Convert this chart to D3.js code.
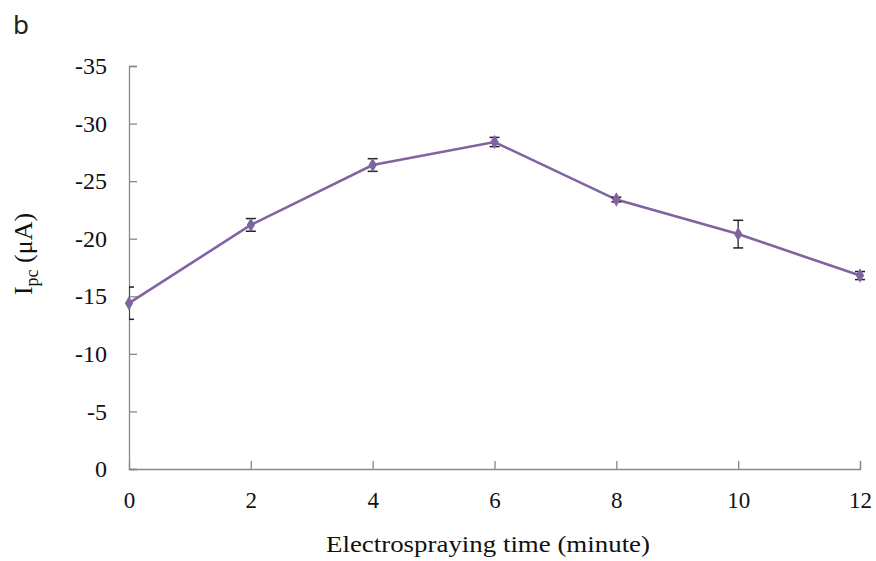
<!DOCTYPE html>
<meta charset="utf-8">
<script src="https://d3js.org/d3.v7.min.js"></script>
<style>
  body { margin: 0; background: #fff; }
  text { font-family: 'Liberation Serif', 'Times New Roman', serif; }
</style>
<body>
<div id="chart"></div>
<script>

// data
var times = [0, 2, 4, 6, 8, 10, 12];
var ipc = [-14.4, -21.2, -26.4, -28.4, -23.4, -20.4, -16.8];
var errs = [1.4, 0.55, 0.55, 0.4, 0.2, 1.2, 0.35];
var yTicks = [0, -5, -10, -15, -20, -25, -30, -35];
var xTicks = [0, 2, 4, 6, 8, 10, 12];

var margin = {top: 66, right: 16, bottom: 92, left: 129},
    width = 876 - margin.left - margin.right,
    height = 561 - margin.top - margin.bottom;

var svg = d3.select("#chart")
  .append("svg")
    .attr("width", 876)
    .attr("height", 561)

svg.append("text")
  .attr("x", 13)
  .attr("y", 34)
  .style("font-family", "'Noto Sans', 'DejaVu Sans', sans-serif")
  .style("font-size", "26px")
  .attr("fill", "#222")
  .text("b");

var g = svg.append("g")
  .attr("transform", "translate(" + margin.left + "," + margin.top + ")");

var x = d3.scaleLinear().domain([0, 12]).range([0, width]);
var y = d3.scaleLinear().domain([0, -35]).range([height, 0]);

// Y axis
var yAxis = g.append("g")
  .call(d3.axisRight(y).tickValues(yTicks).tickSize(8).tickFormat(d3.format("d")));
yAxis.select(".domain").attr("stroke", "#888").attr("stroke-width", 1.3);
yAxis.selectAll(".tick line").attr("stroke", "#888").attr("stroke-width", 1.3);
yAxis.selectAll(".tick text")
  .attr("x", -22)
  .attr("text-anchor", "end")
  .attr("fill", "#111")
  .style("font-size", "24px")
  .text(function(d) { return d === 0 ? "0" : "-" + Math.abs(d); });

// X axis
var xAxis = g.append("g")
  .attr("transform", "translate(0," + height + ")")
  .call(d3.axisTop(x).tickValues(xTicks).tickSize(8).tickFormat(d3.format("d")));
xAxis.select(".domain").attr("stroke", "#888").attr("stroke-width", 1.3);
xAxis.selectAll(".tick line").attr("stroke", "#888").attr("stroke-width", 1.3);
xAxis.selectAll(".tick text")
  .attr("y", 39)
  .attr("fill", "#111")
  .style("font-size", "23px");
xAxis.selectAll(".tick").filter(function(d) { return d === 0; }).select("line").remove();

// axis titles
svg.append("text")
  .attr("x", 326)
  .attr("y", 552)
  .attr("textLength", 324)
  .attr("lengthAdjust", "spacingAndGlyphs")
  .attr("fill", "#111")
  .style("font-size", "24px")
  .text("Electrospraying time (minute)");

var yt = svg.append("text")
  .attr("transform", "translate(32,254) rotate(-90)")
  .attr("text-anchor", "middle")
  .attr("fill", "#111")
  .style("font-size", "26px");
yt.append("tspan").text("I");
yt.append("tspan").attr("dy", 6).style("font-size", "18px").text("pc");
yt.append("tspan").attr("dy", -6).text(" (\u03bcA)");

var data = times.map(function(t, i) { return {t: t, v: ipc[i], e: errs[i]}; });

g.append("clipPath").attr("id", "plotclip")
  .append("rect").attr("x", 0).attr("y", -10).attr("width", width + 20).attr("height", height + 10);

// line
g.append("path")
  .datum(data)
  .attr("fill", "none")
  .attr("stroke", "#8064a2")
  .attr("stroke-width", 2.6)
  .attr("d", d3.line().x(function(d) { return x(d.t); }).y(function(d) { return y(d.v); }));

// error bars
var eb = g.append("g").attr("clip-path", "url(#plotclip)");
eb.selectAll(".ev")
  .data(data)
  .enter().append("line")
    .attr("x1", function(d) { return x(d.t); })
    .attr("x2", function(d) { return x(d.t); })
    .attr("y1", function(d) { return y(d.v - d.e); })
    .attr("y2", function(d) { return y(d.v + d.e); })
    .attr("stroke", "#222")
    .attr("stroke-width", 1.3);
eb.selectAll(".cap")
  .data(data.flatMap(function(d) { return [{t: d.t, v: d.v - d.e}, {t: d.t, v: d.v + d.e}]; }))
  .enter().append("line")
    .attr("x1", function(d) { return x(d.t) - 5; })
    .attr("x2", function(d) { return x(d.t) + 5; })
    .attr("y1", function(d) { return y(d.v); })
    .attr("y2", function(d) { return y(d.v); })
    .attr("stroke", "#222")
    .attr("stroke-width", 1.5);

// markers
g.selectAll(".pt")
  .data(data)
  .enter().append("path")
    .attr("transform", function(d) { return "translate(" + x(d.t) + "," + y(d.v) + ")"; })
    .attr("d", d3.symbol().type(d3.symbolDiamond).size(60))
    .attr("fill", "#8064a2");

</script>
</body>
